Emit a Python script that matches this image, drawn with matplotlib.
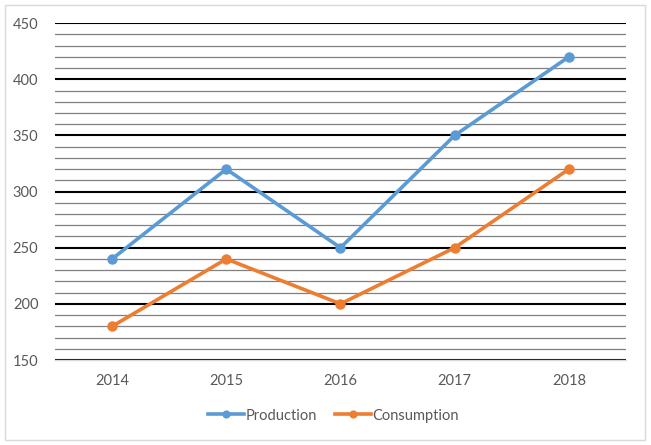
import matplotlib.pyplot as plt
from matplotlib.patches import Rectangle
from matplotlib.ticker import MultipleLocator

plt.rcParams['font.family'] = ['Lato', 'DejaVu Sans']

# Data
years = ['2014', '2015', '2016', '2017', '2018']
production = [240, 320, 250, 350, 420]
consumption = [180, 240, 200, 250, 320]

fig = plt.figure(figsize=(6.51, 4.45), dpi=100)
ax = fig.add_axes([0.0845, 0.191, 0.877, 0.757])

# Outer chart border
fig.patches.append(Rectangle((5 / 651, 5 / 445), 640 / 651, 435 / 445,
                             transform=fig.transFigure, fill=False,
                             edgecolor='#d9d9d9', linewidth=1))

x = range(len(years))
ax.plot(x, production, color='#5B9BD5', linewidth=2.6, marker='o',
        markersize=6.5, label='Production', zorder=3)
ax.plot(x, consumption, color='#ED7D31', linewidth=2.6, marker='o',
        markersize=6.5, label='Consumption', zorder=3)

ax.set_xlim(-0.5, len(years) - 0.5)
ax.set_ylim(150, 450)
ax.yaxis.set_major_locator(MultipleLocator(50))
ax.yaxis.set_minor_locator(MultipleLocator(10))
ax.set_xticks(list(x))
ax.set_xticklabels(years)

ax.grid(axis='y', which='major', color='black', linewidth=1.5)
ax.grid(axis='y', which='minor', color='#808080', linewidth=0.9)
ax.set_axisbelow(True)

for s in ['top', 'right', 'left']:
    ax.spines[s].set_visible(False)
ax.spines['bottom'].set_color('#d9d9d9')
ax.spines['bottom'].set_linewidth(1)
ax.spines['bottom'].set_zorder(2)

ax.tick_params(axis='both', which='both', length=0, labelsize=10.5,
               colors='#595959')
ax.tick_params(axis='y', pad=12)
ax.tick_params(axis='x', pad=10)

leg = ax.legend(loc='center', bbox_to_anchor=(0.488, -0.165), ncol=2,
                frameon=False, fontsize=10.5, handlelength=2.5,
                handletextpad=0.1, columnspacing=1.2, markerscale=0.75)
for t in leg.get_texts():
    t.set_color('#595959')

fig.savefig('out.png', dpi=100)
